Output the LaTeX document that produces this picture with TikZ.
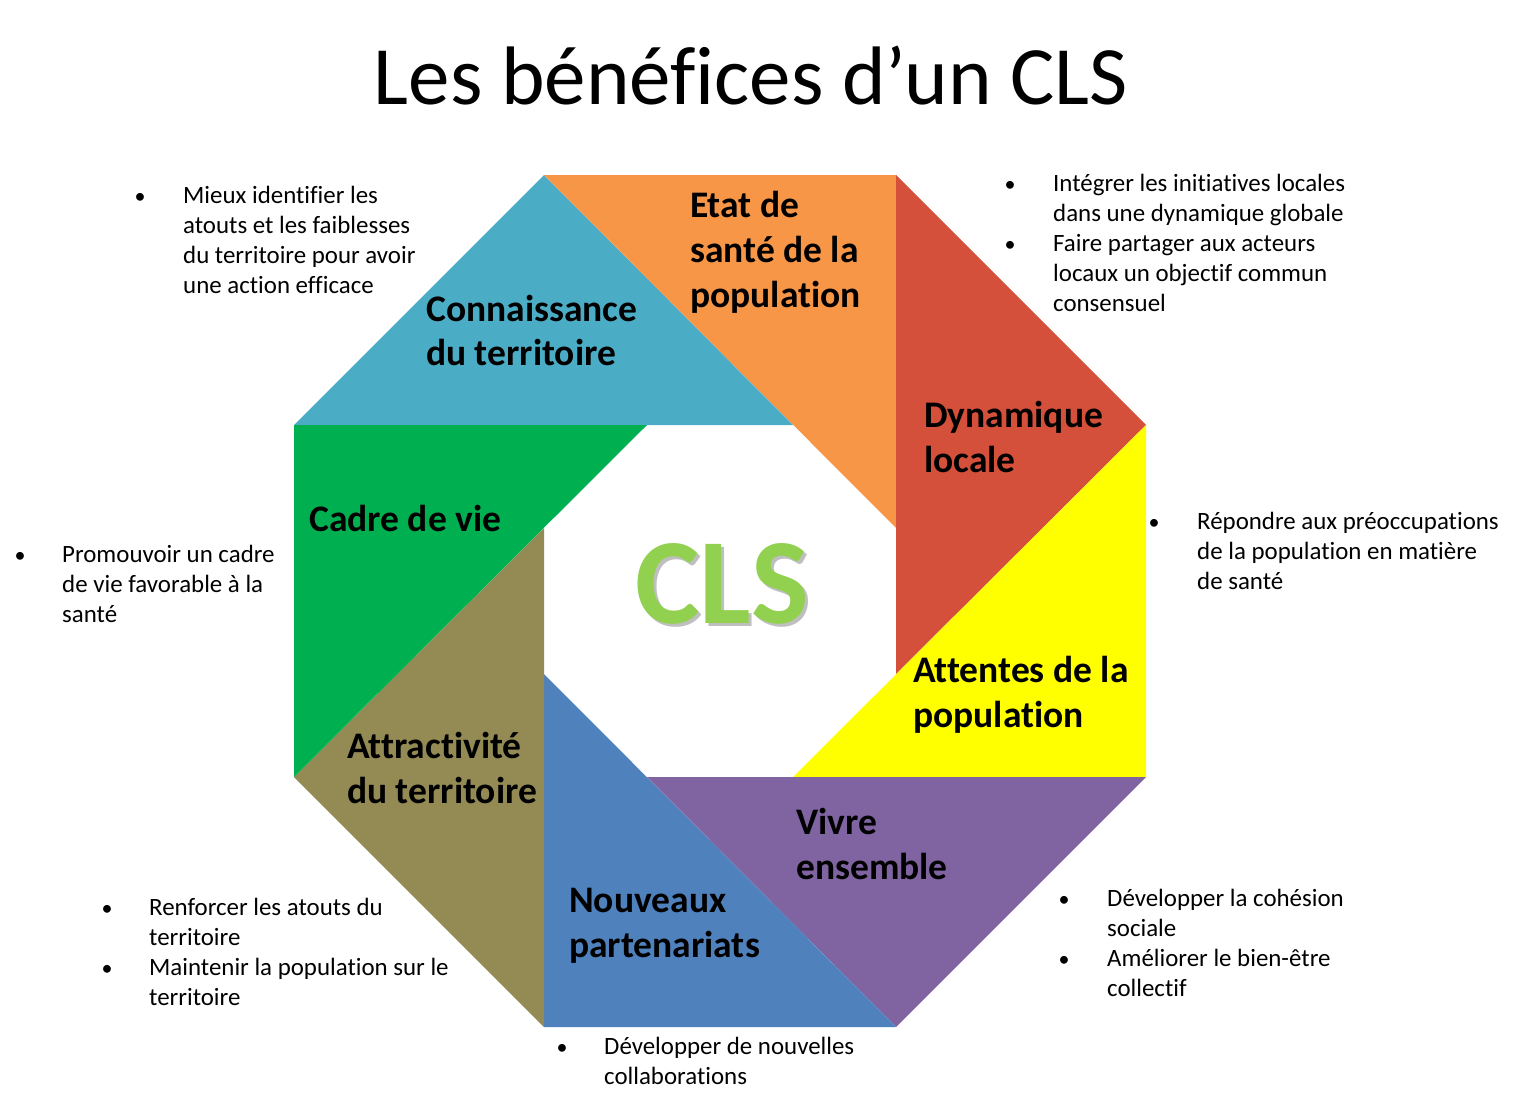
\documentclass[tikz,border=0pt]{standalone}
\usepackage{fontspec}
\setmainfont{Carlito}[Ligatures=NoCommon]
\definecolor{cBlue}{HTML}{4BACC6}
\definecolor{cOrange}{HTML}{F79646}
\definecolor{cRed}{RGB}{213,80,58}
\definecolor{cYellow}{HTML}{FFFF00}
\definecolor{cPurple}{HTML}{8064A2}
\definecolor{cBlueB}{HTML}{4F81BD}
\definecolor{cOlive}{HTML}{948A54}
\definecolor{cGreen}{HTML}{00B050}
\definecolor{cCLS}{HTML}{92D050}
\newcommand\txtblock[6]{%
  \foreach \t [count=\i] in {#6}{\node[#5] (#1-\i) at (#2,{#3+(\i-1)*#4}) {\t};}}
\tikzset{
  lbl/.style={font=\fontsize{37.5}{45}\selectfont\bfseries, anchor=base west, inner sep=0pt},
  txt/.style={font=\fontsize{24.9}{30}\selectfont, anchor=base west, inner sep=0pt},
  bul/.style={font=\fontsize{22}{30}\selectfont, anchor=base, inner sep=0pt}
}
\begin{document}
\begin{tikzpicture}[x=1pt,y=-1pt]
\useasboundingbox (0,0) rectangle (1520,1105);
% outer octagon vertices
\coordinate (O1) at (544,175);
\coordinate (O2) at (896,175);
\coordinate (O3) at (1146,425);
\coordinate (O4) at (1146,777);
\coordinate (O5) at (896,1027);
\coordinate (O6) at (544,1027);
\coordinate (O7) at (294,777);
\coordinate (O8) at (294,425);
% inner octagon vertices
\coordinate (I1) at (647,425);
\coordinate (I2) at (793,425);
\coordinate (I3) at (896,528);
\coordinate (I4) at (896,674);
\coordinate (I5) at (793,777);
\coordinate (I6) at (647,777);
\coordinate (I7) at (544,674);
\coordinate (I8) at (544,528);
% pinwheel pieces
\fill[cBlue]   (O1) -- (O8) -- (I2) -- cycle;
\fill[cOrange] (O2) -- (O1) -- (I3) -- cycle;
\fill[cRed]    (O3) -- (O2) -- (I4) -- cycle;
\fill[cYellow] (O4) -- (O3) -- (I5) -- cycle;
\fill[cPurple] (O5) -- (O4) -- (I6) -- cycle;
\fill[cBlueB]  (O6) -- (O5) -- (I7) -- cycle;
\fill[cOlive]  (O7) -- (O6) -- (I8) -- cycle;
\fill[cGreen]  (O8) -- (O7) -- (I1) -- cycle;
% title
\node[font=\fontsize{83}{100}\selectfont, anchor=base, inner sep=0pt] (title) at (751,105) {Les bénéfices d’un CLS};
% CLS with soft shadow
\node[font=\fontsize{122}{140}\selectfont\bfseries, anchor=base, inner sep=0pt, text=black, opacity=0.25] (clsshadow) at (725,626) {CLS};
\node[font=\fontsize{122}{140}\selectfont\bfseries, anchor=base, inner sep=0pt, text=cCLS] (cls) at (722,623) {CLS};
% piece labels
\txtblock{conn}{426}{321}{44}{lbl}{Connaissance,du territoire}
\txtblock{etat}{690}{217}{45}{lbl}{Etat de,santé de la,population}
\txtblock{dyn}{924}{427}{45}{lbl}{Dynamique,locale}
\txtblock{att}{913}{682}{45}{lbl}{Attentes de la,population}
\txtblock{viv}{796}{834}{45}{lbl}{Vivre,ensemble}
\txtblock{nouv}{569}{912}{45}{lbl}{Nouveaux,partenariats}
\txtblock{attr}{347}{758}{45}{lbl}{Attractivité,du territoire}
\txtblock{cadre}{309}{531}{45}{lbl}{Cadre de vie}
% bullet texts
\txtblock{t1}{183}{203}{30}{txt}{Mieux identifier les,atouts et les faiblesses,du territoire pour avoir,une action efficace}
\node[bul] (t1-b1) at (140,203) {•};
\txtblock{t2}{1053}{191}{30}{txt}{Intégrer les initiatives locales,dans une dynamique globale,Faire partager aux acteurs,locaux un objectif commun,consensuel}
\node[bul] (t2-b1) at (1010,191) {•};
\node[bul] (t2-b2) at (1010,251) {•};
\txtblock{t3}{1197}{529}{30}{txt}{Répondre aux préoccupations,de la population en matière,de santé}
\node[bul] (t3-b1) at (1154,529) {•};
\txtblock{t4}{62}{562}{30}{txt}{Promouvoir un cadre,de vie favorable à la,santé}
\node[bul] (t4-b1) at (20,562) {•};
\txtblock{t5}{149}{915}{30}{txt}{Renforcer les atouts du,territoire,Maintenir la population sur le,territoire}
\node[bul] (t5-b1) at (107,915) {•};
\node[bul] (t5-b2) at (107,975) {•};
\txtblock{t6}{604}{1054}{30}{txt}{Développer de nouvelles,collaborations}
\node[bul] (t6-b1) at (562,1054) {•};
\txtblock{t7}{1107}{906}{30}{txt}{Développer la cohésion,sociale,Améliorer le bien-être,collectif}
\node[bul] (t7-b1) at (1064,906) {•};
\node[bul] (t7-b2) at (1064,966) {•};
\end{tikzpicture}
\end{document}
